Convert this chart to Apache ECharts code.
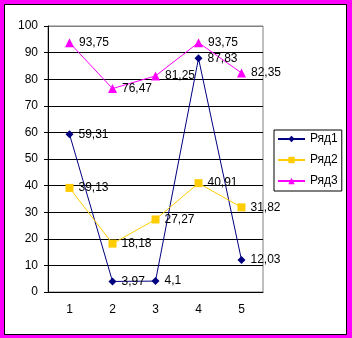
<!DOCTYPE html>
<html><head><meta charset="utf-8">
<script src="https://cdn.jsdelivr.net/npm/echarts@6/dist/echarts.min.js"></script>
<style>html,body{margin:0;padding:0;background:#FF00FF;}#c{width:352px;height:338px;}</style>
</head><body><div id="c"></div>
<script>
var categories = ['1','2','3','4','5'];
var seriesNames = ['Ряд1','Ряд2','Ряд3'];
var row1 = [59.31, 3.97, 4.1, 87.83, 12.03];
var row2 = [39.13, 18.18, 27.27, 40.91, 31.82];
var row3 = [93.75, 76.47, 81.25, 93.75, 82.35];

var chart = echarts.init(document.getElementById('c'));
var font = 'Liberation Sans, Arial, sans-serif';
function lbl(){ return {show:true, position:'right', distance:5, color:'#000', fontFamily:font, fontSize:12,
  formatter:function(p){return String(p.value).replace('.',',');}}; }
var gridColors = ['#000','#000','#000','#000','#000','#000','#000','#000','#000','#000','#808080'];
chart.setOption({
  animation:false,
  backgroundColor:'#FF00FF',
  graphic:[{type:'rect', z:-100, silent:true, shape:{x:4.5,y:4.5,width:342,height:330},
    style:{fill:'#fff', stroke:'#000', lineWidth:1}}],
  grid:{left:48, top:26, right:89, bottom:46, show:true, borderColor:'#808080', borderWidth:1, backgroundColor:'transparent'},
  legend:{orient:'vertical', left:274, top:130, data:seriesNames, borderColor:'#000', borderWidth:1,
    padding:[3,4,4,3], itemWidth:27, itemHeight:8, itemGap:9,
    textStyle:{fontFamily:font, fontSize:12, color:'#000'}, backgroundColor:'#fff'},
  xAxis:{type:'category', data:categories, boundaryGap:true,
    axisLine:{lineStyle:{color:'#000'}}, axisTick:{length:4, lineStyle:{color:'#000'}},
    axisLabel:{color:'#000', fontFamily:font, fontSize:12, margin:12}},
  yAxis:{type:'value', min:0, max:100, interval:10,
    axisLine:{show:true, lineStyle:{color:'#000'}}, axisTick:{show:true, length:4, lineStyle:{color:'#000'}},
    splitLine:{show:true, lineStyle:{color:gridColors, width:1}},
    axisLabel:{color:'#000', fontFamily:font, fontSize:12, margin:10}},
  series:[
    {name:seriesNames[0], type:'line', data:row1, color:'#000080', symbol:'diamond', symbolSize:8,
      lineStyle:{width:1}, label:lbl()},
    {name:seriesNames[1], type:'line', data:row2, color:'#FFCC00', symbol:'rect', symbolSize:8,
      lineStyle:{width:1}, label:lbl()},
    {name:seriesNames[2], type:'line', data:row3, color:'#FF00FF', symbol:'triangle', symbolSize:9,
      lineStyle:{width:1}, label:lbl()}
  ]
});
</script></body></html>
